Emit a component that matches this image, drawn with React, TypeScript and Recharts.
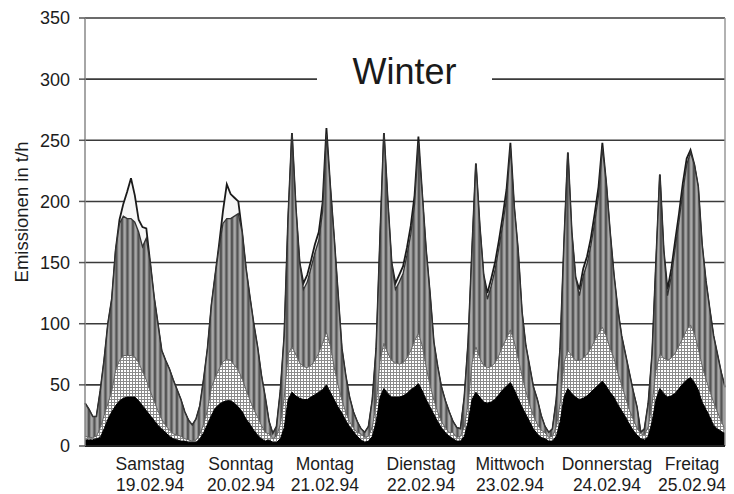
import React from "react";
import { AreaChart, Area, XAxis, YAxis, CartesianGrid, ReferenceLine } from "recharts";

// Hourly emissions, Sat 19.02.94 00h .. Fri 25.02.94 23h (168 hours), cumulative levels in t/h
// upper edge of the whole stack (top, light layer)
const totalLevel = [
  35, 30, 24, 24, 45, 70, 100, 120, 160, 185, 198, 208, 219, 205, 185, 179, 178, 150, 122, 100, 78, 70, 63, 54, // Sa
  46, 38, 28, 21, 17, 22, 33, 55, 80, 115, 140, 165, 192, 214, 206, 203, 200, 175, 145, 122, 100, 81, 58, 40, // So
  20, 10, 16, 45, 90, 185, 256, 195, 150, 133, 140, 152, 165, 175, 199, 260, 212, 170, 125, 80, 58, 40, 28, 20, // Mo
  14, 11, 16, 38, 80, 170, 256, 200, 150, 133, 140, 147, 162, 180, 205, 253, 205, 160, 125, 85, 65, 48, 37, 28, // Di
  20, 15, 14, 40, 85, 160, 231, 180, 140, 125, 137, 150, 168, 188, 210, 248, 195, 160, 110, 82, 65, 48, 38, 25, // Mi
  16, 11, 14, 38, 80, 165, 240, 175, 138, 128, 145, 155, 170, 190, 212, 248, 215, 175, 140, 112, 90, 75, 60, 45, // Do
  32, 11, 14, 35, 75, 150, 222, 160, 128, 145, 168, 190, 215, 235, 242, 230, 212, 165, 135, 112, 90, 75, 60, 48, // Fr
];
// upper edge of the vertically striped layer
const stripedLevel = [
  35, 30, 24, 24, 45, 70, 100, 120, 160, 182, 188, 186, 186, 183, 175, 163, 170, 150, 122, 100, 78, 70, 63, 54,
  46, 38, 28, 21, 17, 22, 33, 55, 80, 115, 140, 163, 182, 186, 186, 188, 190, 175, 145, 122, 100, 81, 58, 40,
  20, 10, 16, 45, 90, 185, 256, 195, 150, 128, 134, 146, 158, 168, 192, 255, 212, 170, 125, 80, 58, 40, 28, 20,
  14, 11, 16, 38, 80, 170, 256, 200, 150, 128, 134, 141, 156, 173, 198, 248, 205, 160, 125, 85, 65, 48, 37, 28,
  20, 15, 14, 40, 85, 160, 231, 180, 140, 120, 131, 144, 162, 181, 203, 244, 195, 160, 110, 82, 65, 48, 38, 25,
  16, 11, 14, 38, 80, 165, 240, 175, 138, 123, 139, 149, 164, 183, 205, 244, 215, 175, 140, 112, 90, 75, 60, 45,
  32, 11, 14, 35, 75, 150, 222, 160, 123, 139, 162, 184, 208, 230, 240, 230, 212, 165, 135, 112, 90, 75, 60, 48,
];
// upper edge of the cross-hatched layer
const hatchLevel = [
  8, 7, 7, 8, 15, 25, 35, 45, 62, 70, 74, 74, 74, 73, 68, 61, 54, 45, 37, 29, 22, 17, 13, 10,
  9, 8, 6, 5, 4, 5, 10, 18, 30, 48, 56, 63, 69, 71, 70, 66, 62, 55, 46, 38, 30, 24, 17, 11,
  10, 6, 8, 18, 40, 75, 81, 75, 68, 65, 64, 66, 70, 76, 84, 93, 82, 65, 50, 38, 28, 20, 15, 11,
  10, 7, 8, 16, 35, 70, 84, 76, 70, 68, 67, 68, 72, 78, 86, 92, 82, 65, 50, 38, 28, 20, 15, 11,
  11, 7, 8, 16, 35, 68, 81, 72, 66, 64, 65, 68, 74, 82, 88, 95, 85, 72, 58, 45, 34, 25, 18, 13,
  11, 7, 8, 16, 35, 68, 78, 74, 70, 70, 72, 75, 80, 86, 92, 97, 90, 80, 72, 60, 50, 40, 30, 22,
  15, 10, 9, 16, 35, 62, 75, 72, 70, 72, 76, 82, 88, 95, 99, 92, 80, 66, 55, 45, 36, 28, 20, 14,
];
// upper edge of the black (bottom) layer
const blackLevel = [
  5, 5, 5, 6, 7, 14, 22, 28, 33, 37, 39, 40, 40, 40, 37, 33, 29, 25, 21, 17, 14, 11, 8, 6,
  5, 4, 4, 3, 3, 3, 6, 11, 18, 25, 31, 34, 36, 37, 37, 35, 32, 28, 22, 18, 13, 9, 6, 4,
  5, 3, 3, 6, 15, 38, 44, 41, 39, 38, 38, 40, 42, 44, 46, 50, 44, 38, 32, 27, 21, 16, 12, 8,
  5, 3, 4, 8, 20, 40, 47, 43, 40, 40, 40, 41, 43, 46, 48, 51, 45, 38, 32, 26, 20, 15, 11, 8,
  6, 4, 4, 8, 20, 38, 44, 40, 36, 35, 36, 38, 42, 46, 49, 52, 46, 39, 32, 26, 20, 14, 10, 7,
  6, 4, 4, 8, 20, 40, 47, 43, 40, 38, 39, 41, 44, 47, 50, 53, 49, 44, 40, 34, 29, 24, 18, 13,
  9, 6, 5, 8, 20, 38, 47, 43, 40, 41, 43, 47, 51, 54, 56, 52, 46, 36, 30, 24, 17, 14, 12, 10,
];

const dayNames = ["Samstag", "Sonntag", "Montag", "Dienstag", "Mittwoch", "Donnerstag", "Freitag"];
const dayDates = ["19.02.94", "20.02.94", "21.02.94", "22.02.94", "23.02.94", "24.02.94", "25.02.94"];
const dayLabelHours = [17, 40.7, 62.6, 87.7, 110.9, 136.2, 158.4];
const yTicks = [0, 50, 100, 150, 200, 250, 300, 350];

const data = totalLevel.map((t, h) => ({
  h,
  total: t,
  striped: stripedLevel[h],
  hatch: hatchLevel[h],
  black: blackLevel[h],
}));

const FONT = "'Liberation Sans', Arial, Helvetica, sans-serif";

const DayTick = (props: any) => {
  const { x, y, payload } = props;
  const i = dayLabelHours.indexOf(payload.value);
  return (
    <g>
      <text x={x} y={y + 16} textAnchor="middle" fontFamily={FONT} fontSize={17.5} fill="#1c1c1c">
        {dayNames[i]}
      </text>
      <text x={x} y={y + 37} textAnchor="middle" fontFamily={FONT} fontSize={17.5} fill="#1c1c1c">
        {dayDates[i]}
      </text>
    </g>
  );
};

export default function App() {
  return (
    <div style={{ position: "absolute", left: 0, top: 0, width: 734, height: 494, background: "#fff", fontFamily: FONT }}>
      <AreaChart width={734} height={494} data={data} margin={{ top: 18, right: 9, bottom: 0, left: 0 }}>
        <defs>
          <pattern id="stripes" patternUnits="userSpaceOnUse" width="5.5" height="10">
            <rect width="5.5" height="10" fill="#878787" />
            <rect x="0" width="1.9" height="10" fill="#545454" />
            <rect x="3" width="1.4" height="10" fill="#b3b3b3" />
          </pattern>
          <pattern id="hatch" patternUnits="userSpaceOnUse" width="3" height="3">
            <rect width="3" height="3" fill="#ffffff" />
            <path d="M0 0.5H3M0.5 0V3" stroke="#8a8a8a" strokeWidth="1" />
          </pattern>
        </defs>
        <CartesianGrid vertical={false} stroke="#3a3a3a" strokeWidth={1.6} />
        <XAxis
          dataKey="h"
          type="number"
          domain={[0, 167]}
          ticks={dayLabelHours}
          tick={<DayTick />}
          tickLine={false}
          interval={0}
          height={48}
          axisLine={{ stroke: "#222", strokeWidth: 2 }}
        />
        <YAxis
          domain={[0, 350]}
          ticks={yTicks}
          width={85}
          tickSize={6}
          tickMargin={9}
          interval={0}
          tick={{ fontSize: 18, fill: "#1c1c1c", fontFamily: FONT }}
          tickLine={{ stroke: "#555", strokeWidth: 1.5 }}
          axisLine={{ stroke: "#888", strokeWidth: 1.5 }}
        />
        <ReferenceLine x={167} stroke="#999" strokeWidth={1.5} />
        <Area type="linear" dataKey="total" fill="#f6f6f6" fillOpacity={1} stroke="#1a1a1a" strokeWidth={1.8} isAnimationActive={false} dot={false} activeDot={false} />
        <Area type="linear" dataKey="striped" fill="url(#stripes)" fillOpacity={1} stroke="#333" strokeWidth={1.3} isAnimationActive={false} dot={false} activeDot={false} />
        <Area type="linear" dataKey="hatch" fill="url(#hatch)" fillOpacity={1} stroke="#666" strokeWidth={1} isAnimationActive={false} dot={false} activeDot={false} />
        <Area type="linear" dataKey="black" fill="#000" fillOpacity={1} stroke="#000" strokeWidth={1} isAnimationActive={false} dot={false} activeDot={false} />
      </AreaChart>
      <div
        style={{
          position: "absolute",
          left: 317,
          top: 52,
          width: 175,
          height: 40,
          background: "#fff",
          textAlign: "center",
          fontSize: 36,
          lineHeight: "40px",
          color: "#1a1a1a",
          fontFamily: FONT,
        }}
      >
        Winter
      </div>
      <div
        style={{
          position: "absolute",
          left: 22 - 100,
          top: 212 - 12,
          width: 200,
          height: 24,
          lineHeight: "24px",
          textAlign: "center",
          fontSize: 18.5,
          color: "#1c1c1c",
          transform: "rotate(-90deg)",
          fontFamily: FONT,
          whiteSpace: "nowrap",
        }}
      >
        Emissionen in t/h
      </div>
    </div>
  );
}
